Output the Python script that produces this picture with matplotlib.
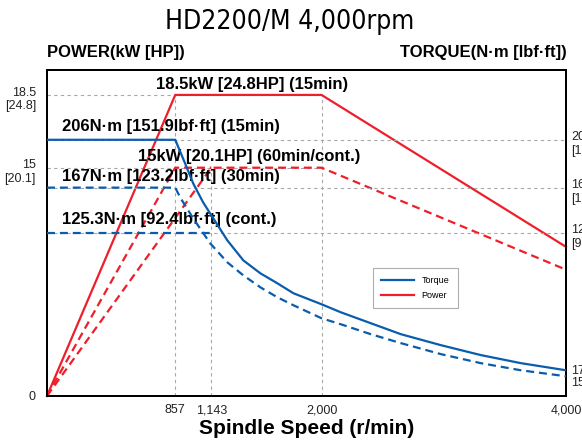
import matplotlib
matplotlib.use('Agg')
import matplotlib.pyplot as plt
import matplotlib.transforms as mtransforms
from matplotlib.lines import Line2D
import numpy as np

plt.rcParams['font.family'] = ['Liberation Sans', 'DejaVu Sans']

# the chart uses uneven axes, so map values through the tick anchors
x_anchor_val = [0, 857, 1143, 2000, 4000]
x_anchor_px = [0, 128, 164, 274, 518]
p_anchor_val = [0, 15, 18.5, 19.7]
p_anchor_px = [0, 229, 302, 327]
t_anchor_val = [0, 15, 17, 125.3, 167, 206, 263]
t_anchor_px = [0, 15, 27, 164, 209, 257, 327]

speed_ticks = [857, 1143, 2000, 4000]
speed_labels = ['857', '1,143', '2,000', '4,000']
power_ticks = [15, 18.5]
power_labels = ['15\n[20.1]', '18.5\n[24.8]']
torque_ticks = [206, 167, 125.3]
torque_labels = ['206\n[151.9]', '167\n[123.2]', '125.3\n[92.4]']
torque_end_ticks = [17, 15]
torque_end_labels = ['17', '15']

# power (kW)
pw15_rpm = [0, 857, 2000, 4000]
pw15_kw = [0, 18.5, 18.5, 9.8]
pw30_rpm = [0, 857, 1143]
pw30_kw = [0, 15, 15]
pwc_rpm = [0, 857, 1143, 2000, 4000]
pwc_kw = [0, 11.7, 15, 15, 8.3]

# torque (N·m)
tq15_rpm = [0, 857, 936, 1000, 1079, 1159, 1268, 1392, 1525, 1657, 1782,
            2000, 2156, 2402, 2648, 2975, 3303, 3631, 4000]
tq15_nm = [206, 206, 186.5, 170.3, 153.1, 138.3, 119.0, 103.2, 92.9, 85.0,
           77.1, 68.4, 62.1, 53.4, 44.7, 36.0, 28.1, 21.7, 16.8]
tq30_rpm = [0, 857, 897, 1000, 1135, 1268, 1392, 1525, 1657, 1782, 2000,
            2156, 2402, 2648, 2975, 3303, 3631, 4000]
tq30_nm = [167, 167, 157.7, 138.3, 116.6, 101.6, 91.3, 81.8, 73.9, 67.6,
           57.3, 52.6, 44.7, 37.6, 28.9, 21.7, 16.8, 15.8]
tqc_rpm = [0, 1143]
tqc_nm = [125.3, 125.3]

blue = '#0a5cad'
red = '#ee1f2a'
grey = '#a8a8a8'
dash = (0, (3.6, 2.2))
grid_dash = (0, (3, 3))


def make_scale(vals, px):
    def fwd(v):
        return np.interp(v, vals, px)

    def inv(p):
        return np.interp(p, px, vals)
    return fwd, inv


fig = plt.figure(figsize=(5.82, 4.45), dpi=100)
ax = fig.add_axes([47 / 582, 49 / 445, 519 / 582, 326 / 445])
ax.set_xscale('function', functions=make_scale(x_anchor_val, x_anchor_px))
ax.set_yscale('function', functions=make_scale(p_anchor_val, p_anchor_px))
ax.set_xlim(0, 4000)
ax.set_ylim(0, 19.7)

ax2 = ax.twinx()
ax2.set_yscale('function', functions=make_scale(t_anchor_val, t_anchor_px))
ax2.set_ylim(0, 263)

# grid lines
for v in power_ticks:
    ax.plot([0, 2000], [v, v], color=grey, lw=0.8, ls=grid_dash, zorder=1)
ax.plot([857, 857], [0, 18.5], color=grey, lw=0.8, ls=grid_dash, zorder=1)
ax.plot([1143, 1143], [0, 15], color=grey, lw=0.8, ls=grid_dash, zorder=1)
ax.plot([2000, 2000], [0, 18.5], color=grey, lw=0.8, ls=grid_dash, zorder=1)
for v in torque_ticks:
    ax2.plot([0, 4000], [v, v], color=grey, lw=0.8, ls=grid_dash, zorder=1)

ax.plot(pw15_rpm, pw15_kw, color=red, lw=1.6, zorder=3, clip_on=False)
ax.plot(pw30_rpm, pw30_kw, color=red, lw=1.6, ls=dash, zorder=3)
ax.plot(pwc_rpm, pwc_kw, color=red, lw=1.6, ls=dash, zorder=3)

ax2.plot(tq15_rpm, tq15_nm, color=blue, lw=1.6, zorder=3)
ax2.plot(tq30_rpm, tq30_nm, color=blue, lw=1.6, ls=dash, zorder=3)
ax2.plot(tqc_rpm, tqc_nm, color=blue, lw=1.6, ls=dash, zorder=3)

# ticks
ax.set_xticks(speed_ticks)
ax.set_xticklabels(speed_labels, fontsize=9, color='#222222')
ax.set_yticks([0] + power_ticks)
ax.set_yticklabels(['0'] + power_labels, fontsize=9, color='#222222')
ax2.set_yticks(torque_ticks + torque_end_ticks)
ax2.set_yticklabels(torque_labels + torque_end_labels, fontsize=9, color='#222222')
ax.tick_params(axis='x', length=0, pad=6)
ax.tick_params(axis='y', length=0, pad=8)
ax2.tick_params(axis='y', length=0, pad=4)

shift = mtransforms.ScaledTranslation(0, 6 / 72, fig.dpi_scale_trans)
for lab in ax.get_yticklabels()[1:] + ax2.get_yticklabels()[:3]:
    lab.set_va('top')
    lab.set_linespacing(1.15)
    lab.set_transform(lab.get_transform() + shift)

for a in (ax, ax2):
    for s in a.spines.values():
        s.set_linewidth(1.4)
        s.set_color('black')

# curve annotations
ann = dict(transform=ax.transAxes, fontsize=12, fontweight='bold', va='center', zorder=5)
ax.text(0.395, 0.957, '18.5kW [24.8HP] (15min)', ha='center', **ann)
ax.text(0.029, 0.828, '206N·m [151.9lbf·ft] (15min)', ha='left', **ann)
ax.text(0.175, 0.736, '15kW [20.1HP] (60min/cont.)', ha='left', **ann)
ax.text(0.029, 0.672, '167N·m [123.2lbf·ft] (30min)', ha='left', **ann)
ax.text(0.029, 0.541, '125.3N·m [92.4lbf·ft] (cont.)', ha='left', **ann)

handles = [Line2D([], [], color=blue, lw=1.6), Line2D([], [], color=red, lw=1.6)]
leg = ax2.legend(handles, ['Torque', 'Power'], loc='lower left',
                 bbox_to_anchor=(0.628, 0.27), fontsize=6.5, fancybox=False,
                 edgecolor='#999999', handlelength=3.6, borderpad=0.9,
                 labelspacing=0.6, handletextpad=0.9, borderaxespad=0)
leg.get_frame().set_linewidth(0.8)

fig.text(290 / 582, 1 - 22 / 445, 'HD2200/M 4,000rpm', ha='center', va='center',
         fontsize=19, family='DejaVu Sans', fontstretch='condensed')
fig.text(47 / 582, 1 - 52 / 445, 'POWER(kW [HP])', ha='left', va='center',
         fontsize=12, fontweight='bold')
fig.text(567 / 582, 1 - 52 / 445, 'TORQUE(N·m [lbf·ft])', ha='right', va='center',
         fontsize=12, fontweight='bold')
ax.set_xlabel('Spindle Speed (r/min)', fontsize=15, fontweight='bold', labelpad=2)

fig.savefig('out.png', dpi=100)
